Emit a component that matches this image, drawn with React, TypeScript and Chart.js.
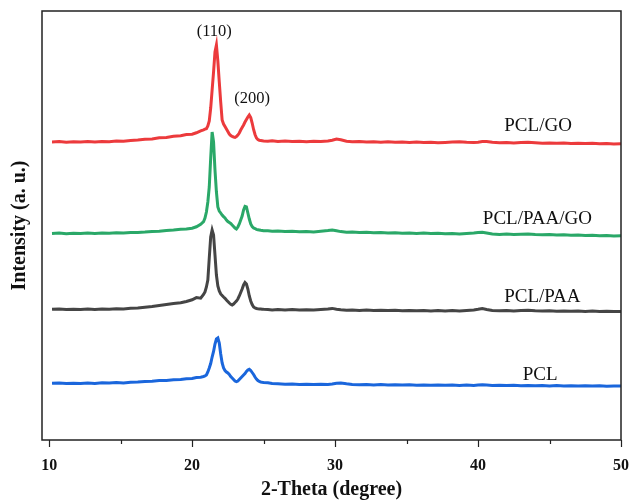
import React, { useEffect, useRef } from "react";
import { Chart, registerables } from "chart.js";

Chart.register(...registerables);

// 2-Theta sample positions (degree)
const TWO_THETA = [
  10.2, 10.7, 11.2, 11.7, 12.2, 12.7, 13.2, 13.7, 14.2, 14.7, 15.2, 15.7, 16.2, 16.7, 17.2, 17.7, 18.2, 18.7, 19.2, 19.6, 20.0, 20.3, 20.6, 20.8,
  20.9, 21.0, 21.1, 21.2, 21.3, 21.4, 21.5, 21.6, 21.7, 21.8, 21.9, 22.0, 22.1, 22.2, 22.3, 22.4, 22.5, 22.6, 22.7, 22.8, 22.9,
  23.0, 23.1, 23.2, 23.3, 23.4, 23.5, 23.6, 23.7, 23.8, 23.9, 24.0, 24.1, 24.2, 24.3, 24.4, 24.5, 24.6, 24.7, 24.8, 24.9, 25.0,
  25.3, 25.6, 26.0, 26.5, 27.0, 27.5, 28.0, 28.5, 29.0, 29.5, 29.8, 30.1, 30.4, 30.8, 31.2, 31.7, 32.2, 32.7, 33.2, 33.7,
  34.2, 34.7, 35.2, 35.7, 36.2, 36.7, 37.2, 37.7, 38.2, 38.7, 39.2, 39.7, 40.0, 40.3, 40.6, 41.0, 41.5, 42.0, 42.5, 43.0,
  43.5, 44.0, 44.5, 45.0, 45.5, 46.0, 46.5, 47.0, 47.5, 48.0, 48.5, 49.0, 49.5, 50.0,
];

// Stacked (offset) intensities, a. u.
const PCL_GO = [
  298, 298.4, 297.8, 298.2, 298, 298.5, 297.9, 298.6, 298.3, 299, 298.7, 299.6, 299.9, 300.7, 301.1, 302.2, 302.6, 303.7, 304.2, 305.4, 305.8, 307.2, 309.1, 310.2,
  310.8, 311.3, 314, 319, 332, 350, 368, 388, 395, 379, 358, 338, 320, 316, 313.5, 311, 308.5, 306, 304.5, 303.5, 303,
  302.7, 303.5, 305, 307, 310, 312.5, 315, 318, 320.5, 323, 325, 322.5, 317, 310.5, 305.5, 302, 300.5, 299.7, 299.4, 299.2, 299,
  298.8, 299.2, 298.6, 298.9, 298.4, 298.8, 298.3, 298.7, 298.5, 299, 299.8, 301, 300.2, 298.8, 298.2, 298.5, 298, 298.3, 297.8, 298.2,
  297.7, 298, 297.6, 297.9, 297.4, 297.8, 297.3, 297.6, 297.9, 298.3, 297.7, 297.4, 297.8, 298.4, 298.6, 297.8, 297.2, 297.5, 297, 297.4,
  297.7, 297.2, 296.8, 297.1, 296.7, 297, 296.5, 296.8, 296.4, 296.7, 296.2, 296.5, 296.1, 296.3,
];

const PCL_PAA_GO = [
  206.5, 206.9, 206.3, 206.7, 206.4, 207, 206.6, 207.1, 206.7, 207.2, 206.9, 207.4, 207.6, 207.9, 208.5, 208.8, 209.6, 209.9, 210.7, 211, 211.8, 213.2, 215.7, 218.3,
  222, 228, 238, 253, 282, 308, 298, 270, 248, 233, 229, 227, 225, 223.3, 222, 220, 218.5, 217.5, 216.5, 215, 213.5,
  212, 211, 213, 216, 220, 224, 230, 233.5, 233, 227, 221, 216, 213.5, 212, 211.5, 210.7, 210.2, 210, 209.7, 209.5, 209.3,
  209.2, 208.7, 209, 208.4, 208.7, 208.2, 208.5, 208.1, 208.7, 209.4, 210, 209.2, 208.4, 207.7, 208, 207.4, 207.7, 207.2, 207.5, 207,
  207.3, 206.8, 207.1, 206.6, 206.9, 206.4, 206.7, 206.2, 206.5, 206.1, 206.6, 207, 207.5, 207.8, 207, 206, 205.6, 205.9, 205.4, 205.7,
  206.1, 205.5, 205.2, 205.5, 205, 205.3, 204.8, 205, 204.5, 204.8, 204.3, 204.6, 204.1, 204.2,
];

const PCL_PAA = [
  130.7, 131, 130.4, 130.8, 130.5, 131, 130.6, 131.1, 130.8, 131.2, 131.1, 131.7, 132, 132.7, 133.4, 134.4, 135.5, 136.6, 137.2, 138.5, 140.2, 142.4, 141.8, 145.5,
  148, 153, 160, 182, 203, 210, 205, 185, 165, 154, 149, 146, 144.5, 143, 141.7, 140, 138.5, 137, 135.7, 135, 136,
  137.5, 139, 141, 144, 147.5, 151, 155, 157.5, 156, 151, 144, 139, 135.5, 133, 132, 131.5, 131.2, 131, 131, 130.8, 130.7,
  130.6, 130.1, 130.5, 130, 130.4, 129.9, 130.3, 130, 130.5, 131, 131.6, 130.8, 130.2, 129.7, 130, 129.6, 129.9, 129.5, 129.8, 129.4,
  129.7, 129.3, 129.6, 129.2, 129.5, 129.1, 129.5, 129.1, 129.4, 129.1, 129.6, 130.1, 130.7, 131.4, 130.5, 129.6, 129.2, 129.5, 129, 129.4,
  129.7, 129.2, 128.9, 129.2, 128.8, 129.1, 128.7, 129, 128.6, 128.9, 128.5, 128.8, 128.4, 128.6,
];

const PCL = [
  56.7, 57, 56.4, 56.8, 56.5, 57, 56.6, 57.2, 56.9, 57.4, 57.1, 57.7, 57.9, 58.5, 58.7, 59.4, 59.6, 60.2, 60.4, 61.2, 61.5, 62.4, 62.8, 63.5,
  64, 65, 68, 72, 76.5, 83, 88.5, 96, 101, 102, 97, 86, 77, 72, 69.5, 68, 67, 65.5, 63.5, 62, 60.5,
  59, 58.3, 59, 60.5, 62, 63.5, 65, 66.5, 68.5, 70, 70.7, 69.5, 67.5, 65.5, 63, 61, 59.5, 58.5, 58, 57.7, 57.5,
  57.2, 56.6, 56.2, 55.7, 56, 55.5, 55.8, 55.4, 55.8, 55.5, 56, 56.8, 57, 56.2, 55.6, 55.2, 55.5, 55.1, 55.4, 55,
  55.3, 54.9, 55.2, 54.8, 55.1, 54.7, 55, 54.7, 55, 54.6, 54.9, 54.6, 55, 55.2, 54.9, 54.5, 54.8, 54.4, 54.7, 54.3,
  54.6, 54.2, 54.5, 54.1, 54.4, 54, 54.3, 53.9, 54.2, 53.9, 54.2, 53.8, 54.1, 54,
];

const SERIES_NAMES = ["PCL/GO", "PCL/PAA/GO", "PCL/PAA", "PCL"];
const SERIES_VALUES = [PCL_GO, PCL_PAA_GO, PCL_PAA, PCL];
const SERIES_COLORS = ["#ec3a3c", "#2aa868", "#454545", "#1a66dc"];

// Series name labels (x in degree, y in a. u.)
const NAME_LABEL_X = [44.2, 44.15, 44.5, 44.35];
const NAME_LABEL_Y = [314, 221, 143, 65];

// Peak index labels
const PEAK_LABELS = ["(110)", "(200)"];
const PEAK_LABEL_X = [21.55, 24.2];
const PEAK_LABEL_Y = [408, 341];

const X_TICKS = [10, 20, 30, 40, 50];
const X_MINOR_TICKS = [15, 25, 35, 45];

const SERIF = '"Liberation Serif", "Times New Roman", serif';

const annotationPlugin = {
  id: "xrdAnnotations",
  afterDraw(chart: any) {
    const { ctx, chartArea, scales } = chart;
    const xs = scales.x;
    const ys = scales.y;
    ctx.save();
    // frame
    ctx.strokeStyle = "#222";
    ctx.lineWidth = 1.5;
    ctx.strokeRect(chartArea.left, chartArea.top, chartArea.right - chartArea.left, chartArea.bottom - chartArea.top);
    // minor ticks
    ctx.lineWidth = 1.2;
    X_MINOR_TICKS.forEach((v) => {
      const px = Math.round(xs.getPixelForValue(v)) + 0.5;
      ctx.beginPath();
      ctx.moveTo(px, chartArea.bottom);
      ctx.lineTo(px, chartArea.bottom + 4);
      ctx.stroke();
    });
    // texts
    ctx.fillStyle = "#111";
    ctx.textAlign = "center";
    ctx.textBaseline = "middle";
    ctx.font = `19px ${SERIF}`;
    SERIES_NAMES.forEach((name, i) => {
      ctx.fillText(name, xs.getPixelForValue(NAME_LABEL_X[i]), ys.getPixelForValue(NAME_LABEL_Y[i]));
    });
    ctx.font = `16.5px ${SERIF}`;
    PEAK_LABELS.forEach((t, i) => {
      ctx.fillText(t, xs.getPixelForValue(PEAK_LABEL_X[i]), ys.getPixelForValue(PEAK_LABEL_Y[i]));
    });
    ctx.restore();
  },
};

export default function App() {
  const ref = useRef<HTMLCanvasElement | null>(null);

  useEffect(() => {
    document.body.style.margin = "0";
    const canvas = ref.current;
    if (!canvas) return;
    const chart = new Chart(canvas, {
      type: "line",
      data: {
        datasets: SERIES_NAMES.map((name, s) => ({
          label: name,
          data: TWO_THETA.map((x, i) => ({ x, y: SERIES_VALUES[s][i] })),
          borderColor: SERIES_COLORS[s],
          backgroundColor: SERIES_COLORS[s],
          borderWidth: 3,
          pointRadius: 0,
          tension: 0,
          fill: false,
        })),
      },
      options: {
        responsive: false,
        animation: false,
        events: [],
        layout: { padding: { top: 11, right: 9, left: 0, bottom: 0 } },
        plugins: {
          legend: { display: false },
          tooltip: { enabled: false },
        },
        scales: {
          x: {
            type: "linear",
            min: 9.5,
            max: 50,
            afterBuildTicks: (scale: any) => {
              scale.ticks = X_TICKS.map((v) => ({ value: v }));
            },
            afterFit: (scale: any) => {
              scale.height = 62;
              scale.paddingLeft = 0;
              scale.paddingRight = 0;
            },
            border: { display: false },
            grid: {
              display: true,
              drawOnChartArea: false,
              drawTicks: true,
              tickLength: 7,
              tickColor: "#222",
              tickWidth: 1.2,
            },
            ticks: {
              color: "#111",
              padding: 9,
              maxRotation: 0,
              font: { family: SERIF, size: 16, weight: "bold" },
            },
            title: {
              display: true,
              text: "2-Theta (degree)",
              color: "#111",
              padding: { top: 0, bottom: 0 },
              font: { family: SERIF, size: 20, weight: "bold" },
            },
          },
          y: {
            min: 0,
            max: 429,
            afterFit: (scale: any) => {
              scale.width = 42;
            },
            border: { display: false },
            grid: { display: false, drawTicks: false },
            ticks: { display: false },
            title: {
              display: true,
              text: "Intensity (a. u.)",
              color: "#111",
              padding: { top: 8, bottom: 0 },
              font: { family: SERIF, size: 20, weight: "bold" },
            },
          },
        },
      },
      plugins: [annotationPlugin],
    } as any);
    return () => chart.destroy();
  }, []);

  return <canvas ref={ref} width={630} height={502} style={{ display: "block" }} />;
}
